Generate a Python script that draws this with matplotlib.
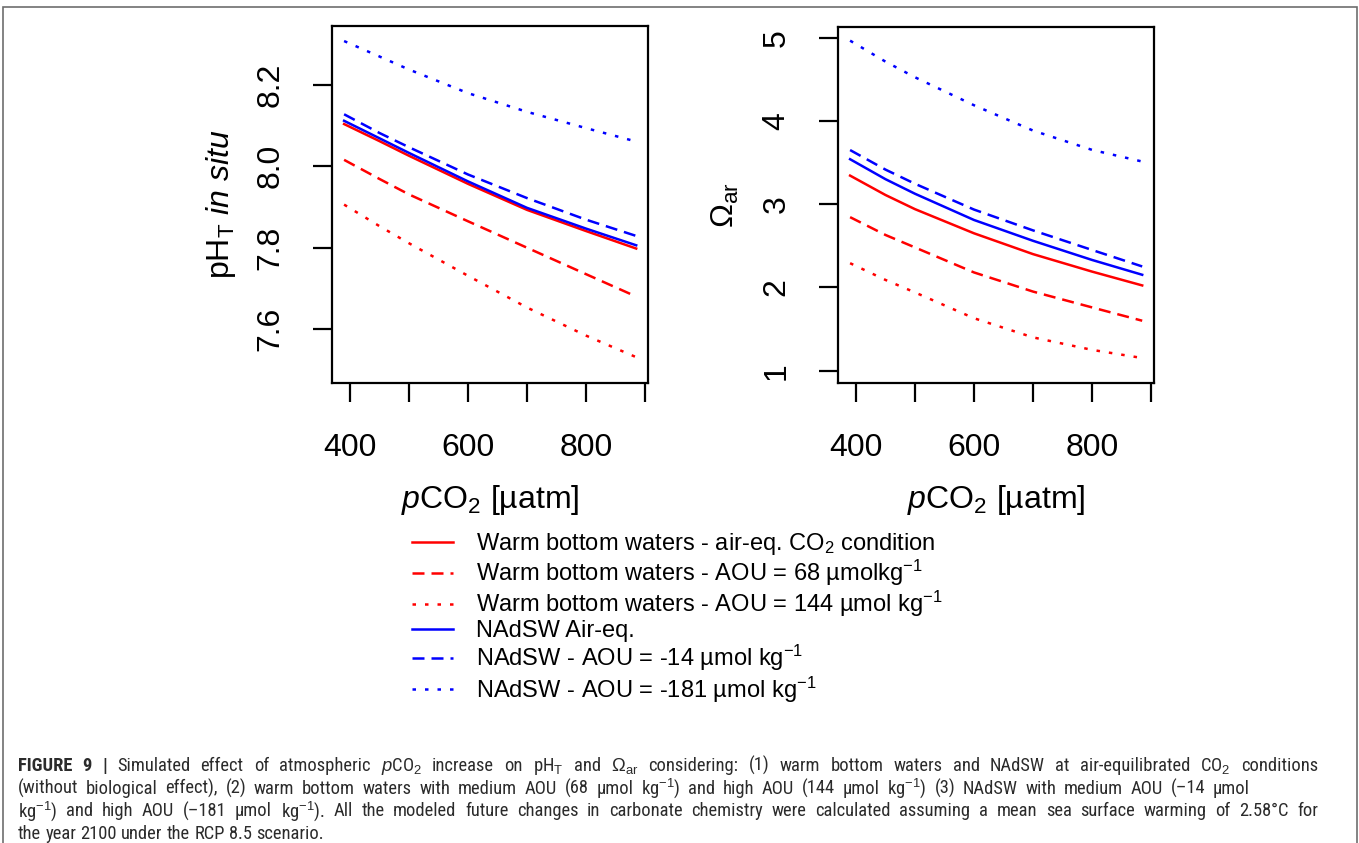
import matplotlib
matplotlib.use("Agg")
import matplotlib.pyplot as plt
from matplotlib.patches import Rectangle
from matplotlib import font_manager

plt.rcParams['font.family'] = ['Liberation Sans', 'DejaVu Sans']
plt.rcParams['mathtext.fontset'] = 'custom'
plt.rcParams['mathtext.rm'] = 'Liberation Sans'
plt.rcParams['mathtext.it'] = 'Liberation Sans:italic'
plt.rcParams['mathtext.bf'] = 'Liberation Sans:bold'

# ---------------- data ----------------
pco2 = [390, 450, 500, 600, 700, 800, 885]

ph_warm_air = [8.104, 8.062, 8.026, 7.957, 7.893, 7.841, 7.798]
ph_warm_aou68 = [8.016, 7.969, 7.931, 7.865, 7.800, 7.735, 7.680]
ph_warm_aou144 = [7.906, 7.853, 7.811, 7.731, 7.653, 7.584, 7.531]
ph_nadsw_air = [8.112, 8.069, 8.033, 7.963, 7.898, 7.847, 7.806]
ph_nadsw_aou14 = [8.128, 8.082, 8.047, 7.980, 7.922, 7.869, 7.829]
ph_nadsw_aou181 = [8.308, 8.270, 8.238, 8.180, 8.134, 8.094, 8.061]

om_warm_air = [3.343, 3.110, 2.940, 2.650, 2.400, 2.190, 2.024]
om_warm_aou68 = [2.844, 2.630, 2.480, 2.180, 1.950, 1.760, 1.600]
om_warm_aou144 = [2.291, 2.090, 1.940, 1.630, 1.400, 1.250, 1.152]
om_nadsw_air = [3.540, 3.300, 3.125, 2.810, 2.560, 2.330, 2.152]
om_nadsw_aou14 = [3.650, 3.415, 3.245, 2.935, 2.685, 2.450, 2.252]
om_nadsw_aou181 = [4.964, 4.712, 4.524, 4.188, 3.884, 3.652, 3.512]

x_ticks = [400, 500, 600, 700, 800, 900]
x_ticklabels = ['400', '', '600', '', '800', '']
ph_ticks = [7.6, 7.8, 8.0, 8.2]
ph_ticklabels = ['7.6', '7.8', '8.0', '8.2']
om_ticks = [1, 2, 3, 4, 5]
om_ticklabels = ['1', '2', '3', '4', '5']

legend_labels = [
    'Warm bottom waters - air-eq. CO$_2$ condition',
    'Warm bottom waters - AOU = 68 µmolkg$^{-1}$',
    'Warm bottom waters - AOU = 144 µmol kg$^{-1}$',
    'NAdSW Air-eq.',
    'NAdSW - AOU = -14 µmol kg$^{-1}$',
    'NAdSW - AOU = -181 µmol kg$^{-1}$',
]

caption_lines = [
    'FIGURE 9 | Simulated effect of atmospheric $\\mathit{p}$CO$_2$ increase on pH$_\\mathrm{T}$ and $\\Omega_\\mathrm{ar}$ considering: (1) warm bottom waters and NAdSW at air-equilibrated CO$_2$ conditions',
    '(without biological effect), (2) warm bottom waters with medium AOU (68 µmol kg$^{-1}$) and high AOU (144 µmol kg$^{-1}$) (3) NAdSW with medium AOU (\u201314 µmol',
    'kg$^{-1}$) and high AOU (\u2013181 µmol kg$^{-1}$). All the modeled future changes in carbonate chemistry were calculated assuming a mean sea surface warming of 2.58°C for',
    'the year 2100 under the RCP 8.5 scenario.',
]

# ---------------- styles ----------------
RED = '#ff0000'
BLUE = '#0000ff'
LW = 1.8
SOLID = '-'
DASH = (0, (4.8, 2.8))
DOT = (0, (1.4, 3.6))
styles = [(RED, SOLID), (RED, DASH), (RED, DOT), (BLUE, SOLID), (BLUE, DASH), (BLUE, DOT)]

W, H = 1359, 843
fig = plt.figure(figsize=(W / 100, H / 100), dpi=100)

def ax_rect(x0, y0, x1, y1):
    return [x0 / W, 1 - y1 / H, (x1 - x0) / W, (y1 - y0) / H]

ax1 = fig.add_axes(ax_rect(332, 26, 648, 383))
ax2 = fig.add_axes(ax_rect(838, 27, 1154, 383))

ph_series = [ph_warm_air, ph_warm_aou68, ph_warm_aou144, ph_nadsw_air, ph_nadsw_aou14, ph_nadsw_aou181]
om_series = [om_warm_air, om_warm_aou68, om_warm_aou144, om_nadsw_air, om_nadsw_aou14, om_nadsw_aou181]

handles = []
for ys, (c, ls), lab in zip(ph_series, styles, legend_labels):
    h, = ax1.plot(pco2, ys, color=c, linestyle=ls, lw=LW, label=lab)
    handles.append(h)
for ys, (c, ls) in zip(om_series, styles):
    ax2.plot(pco2, ys, color=c, linestyle=ls, lw=LW)

ax1.set_xlim(369.5, 905)
ax2.set_xlim(369.5, 905)
ax1.set_ylim(7.4675, 8.345)
ax2.set_ylim(0.852, 5.128)

for ax, yt, ytl in [(ax1, ph_ticks, ph_ticklabels), (ax2, om_ticks, om_ticklabels)]:
    ax.set_xticks(x_ticks)
    ax.set_xticklabels(x_ticklabels)
    ax.set_yticks(yt)
    ax.set_yticklabels(ytl, rotation=90, va='center')
    for s in ax.spines.values():
        s.set_linewidth(1.6)
        s.set_color('black')
    ax.tick_params(axis='both', direction='out', length=14, width=1.6, labelsize=23, color='black')
    ax.tick_params(axis='x', pad=22)
    ax.tick_params(axis='y', pad=19.5)
    ax.set_xlabel('$\\mathit{p}$CO$_2$ [µatm]', fontsize=23)
    ax.xaxis.set_label_coords(0.5, -0.28)

ax1.set_ylabel('pH$_\\mathrm{T}$ $\\mathit{in\\ situ}$', fontsize=23)
ax1.yaxis.set_label_coords(-0.297, 0.5)
ax2.set_ylabel('$\\Omega_\\mathrm{ar}$', fontsize=23)
ax2.yaxis.set_label_coords(-0.307, 0.5)

leg = fig.legend(handles=handles, labels=legend_labels, loc='upper left',
                 bbox_to_anchor=(412 / W, 1 - 531 / H), frameon=False, fontsize=17,
                 handlelength=1.75, handletextpad=0.95, labelspacing=0.04,
                 borderpad=0, borderaxespad=0)

# outer frame
fig.patches.append(Rectangle((2.5 / W, -0.05), (1354 / W), 1 - 6.5 / H + 0.05,
                             transform=fig.transFigure, fill=False, edgecolor='#6e6e6e', lw=1.2))

# ---------------- caption (justified lines 1-3) ----------------
def pick_condensed():
    prefs = ['Liberation Sans Narrow', 'Roboto Condensed', 'Open Sans Condensed',
             'Noto Sans Condensed', 'DejaVu Sans Condensed']
    found = {}
    for f in font_manager.fontManager.ttflist:
        nm = f.name
        st = str(f.stretch)
        key = None
        if 'Narrow' in nm or 'Condensed' in nm:
            key = nm
        elif st in ('condensed', 'semi-condensed'):
            key = nm + ' Condensed'
        if key is None:
            continue
        if f.style != 'normal':
            continue
        wt = f.weight if isinstance(f.weight, int) else (700 if 'bold' in str(f.weight) else 400)
        found.setdefault(key, {})
        if wt >= 600:
            found[key].setdefault('bold', f.fname)
        else:
            found[key].setdefault('regular', f.fname)
    for p in prefs:
        if p in found and 'regular' in found[p]:
            d = found[p]
            return d['regular'], d.get('bold', d['regular'])
    return None, None

reg_file, bold_file = pick_condensed()
cap_color = '#2b2b2b'

def fprops(size, bold=False):
    if reg_file is not None:
        return font_manager.FontProperties(fname=bold_file if bold else reg_file, size=size)
    return font_manager.FontProperties(family=['Liberation Sans', 'DejaVu Sans'], size=size,
                                       weight='bold' if bold else 'normal')

fig.canvas.draw()
r = fig.canvas.get_renderer()

# choose size so that the last (unjustified) line spans as in the picture (x 18 -> 322)
probe = fig.text(0, 0, caption_lines[3], fontproperties=fprops(10), color=cap_color)
w10 = probe.get_window_extent(renderer=r).width
probe.remove()
cap_size = 10 * (322 - 18) / w10

line_y = [771, 794, 816.5, 839]
line_right = [1318, 1250, 1318, None]
x_left = 18
for i, (ln, yy, xr) in enumerate(zip(caption_lines, line_y, line_right)):
    words = ln.split(' ')
    texts = []
    for j, w in enumerate(words):
        bold = (i == 0 and j < 3)
        t = fig.text(0, 1 - yy / H, w, fontproperties=fprops(cap_size, bold), color=cap_color)
        texts.append(t)
    widths = [t.get_window_extent(renderer=r).width for t in texts]
    if xr is None:
        a1 = fig.text(0, 0, 'a a', fontproperties=fprops(cap_size))
        a2 = fig.text(0, 0, 'aa', fontproperties=fprops(cap_size))
        gap = a1.get_window_extent(renderer=r).width - a2.get_window_extent(renderer=r).width
        a1.remove()
        a2.remove()
    else:
        gap = (xr - x_left - sum(widths)) / (len(words) - 1)
    x = x_left
    for t, w in zip(texts, widths):
        t.set_x(x / W)
        x += w + gap

fig.savefig('out.png', dpi=100)
